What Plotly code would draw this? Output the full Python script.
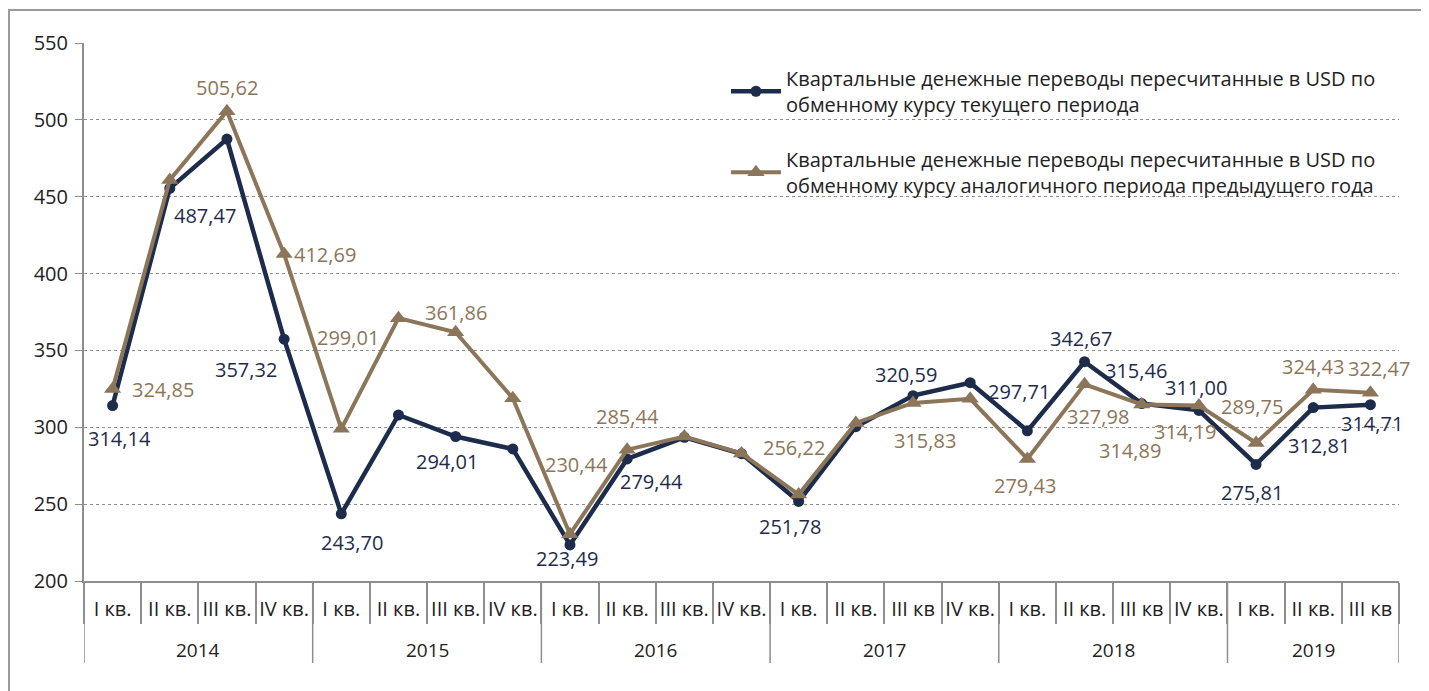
import plotly.graph_objects as go

# ---- data ----
years = ["2014"] * 4 + ["2015"] * 4 + ["2016"] * 4 + ["2017"] * 4 + ["2018"] * 4 + ["2019"] * 3
quarters = ["I кв.", "II кв.", "III кв.", "IV кв.",
            "I кв.", "II кв.", "III кв.", "IV кв.",
            "I кв.", "II кв.", "III кв.", "IV кв.",
            "I кв.", "II кв.", "III кв", "IV кв.",
            "I кв.", "II кв.", "III кв", "IV кв.",
            "I кв.", "II кв.", "III кв"]

current_rate = [314.14, 455.4, 487.47, 357.32,
                243.70, 308.0, 294.01, 285.9,
                223.49, 279.44, 293.5, 282.8,
                251.78, 300.4, 320.59, 329.0,
                297.71, 342.67, 315.46, 311.00,
                275.81, 312.81, 314.71]

prev_year_rate = [324.85, 460.9, 505.62, 412.69,
                  299.01, 371.0, 361.86, 318.9,
                  230.44, 285.44, 294.0, 283.0,
                  256.22, 302.8, 315.83, 318.5,
                  279.43, 327.98, 314.89, 314.19,
                  289.75, 324.43, 322.47]

name_current = "Квартальные денежные переводы пересчитанные в USD по<br>обменному курсу текущего периода"
name_prev = "Квартальные денежные переводы пересчитанные в USD по<br>обменному курсу аналогичного периода предыдущего года"

# labelled points: (index, dx, dy) pixel offsets of the label from its point
labels_current = [(0, 7, 33), (2, -22, 76), (3, -38, 30), (4, 11, 29), (6, -9, 25),
                  (8, -3, 14), (9, 24, 23), (12, -9, 25), (14, -7, -21), (16, -8, -39),
                  (17, -4, -23), (18, -6, -33), (19, -3, -23), (20, -4, 28),
                  (21, 6, 38), (22, 2, 19)]
labels_prev = [(0, 50, 0), (2, 0, -24), (3, 41, 0), (4, 7, -91), (6, 0, -20),
               (8, 7, -70), (9, 0, -33), (12, -5, -47), (14, 12, 38), (16, -2, 27),
               (17, 13, 32), (18, -12, 46), (19, -14, 26), (20, -4, -37),
               (21, 0, -23), (22, 9, -24)]

NAVY = "#1d2c4b"
TAN = "#8c7659"
GRAY = "#8e8e8e"
TXT = "#222222"
FONT = "Open Sans"

n = len(quarters)
xi = list(range(n))

# year groups derived from the years list
groups = []
for i, yv in enumerate(years):
    if not groups or groups[-1][0] != yv:
        groups.append([yv, i, i])
    else:
        groups[-1][2] = i

fig = go.Figure()
fig.add_trace(go.Scatter(
    x=xi, y=current_rate, name=name_current, legendgroup="a",
    mode="lines+markers",
    line=dict(color=NAVY, width=4.5),
    marker=dict(symbol="circle", size=11, color=NAVY),
))
fig.add_trace(go.Scatter(
    x=xi, y=prev_year_rate, name=name_prev, legendgroup="b",
    mode="lines+markers",
    line=dict(color=TAN, width=4),
    marker=dict(symbol="triangle-up", size=15, color=TAN),
))

def fmt(v):
    return f"{v:.2f}".replace(".", ",")

annotations = []
for i, dx, dy in labels_current:
    annotations.append(dict(x=xi[i], y=current_rate[i], xref="x", yref="y",
                            text=fmt(current_rate[i]), showarrow=False,
                            xshift=dx, yshift=-dy,
                            font=dict(family=FONT, size=20, color=NAVY)))
for i, dx, dy in labels_prev:
    annotations.append(dict(x=xi[i], y=prev_year_rate[i], xref="x", yref="y",
                            text=fmt(prev_year_rate[i]), showarrow=False,
                            xshift=dx, yshift=-dy,
                            font=dict(family=FONT, size=20, color=TAN)))

# figure is placed 8px from the page edge by the default body margin
W, H = 1421, 683
ML, MR, MT, MB = 76, 30, 35, 110
PLOT_W = W - ML - MR
PLOT_H = H - MT - MB

shapes = []
for yv, a, b in groups:
    annotations.append(dict(x=(a + b) / 2, y=-69 / PLOT_H, xref="x", yref="paper",
                            text=yv, showarrow=False, yanchor="middle",
                            font=dict(family=FONT, size=19, color=TXT)))
bounds = [g[1] - 0.5 for g in groups] + [groups[-1][2] + 0.5]
for bx in bounds:
    shapes.append(dict(type="line", xref="x", yref="paper", x0=bx, x1=bx,
                       y0=0, y1=-82 / PLOT_H, line=dict(color=GRAY, width=1.5)))
shapes.append(dict(type="rect", xref="paper", yref="paper",
                   x0=-(ML - 1) / PLOT_W, x1=(PLOT_W + MR - 2) / PLOT_W,
                   y0=-(MB + 20) / PLOT_H, y1=(PLOT_H + MT - 2) / PLOT_H,
                   line=dict(color="#9a9a9a", width=2), layer="below"))

fig.update_layout(
    width=W, height=H,
    margin=dict(l=ML, r=MR, t=MT, b=MB),
    paper_bgcolor="white", plot_bgcolor="white",
    font=dict(family=FONT, size=19, color=TXT),
    showlegend=True,
    legend=dict(x=0.4882, y=0.9707, xanchor="left", yanchor="top",
                bgcolor="rgba(0,0,0,0)", traceorder="grouped", tracegroupgap=26,
                itemwidth=50,
                font=dict(family=FONT, size=20, color=TXT)),
    xaxis=dict(range=[-0.5, n - 0.5], showline=True, linecolor=GRAY, linewidth=2,
               tickmode="array", tickvals=xi, ticktext=quarters, tickangle=0,
               ticks="outside", ticklen=9, tickcolor="rgba(0,0,0,0)",
               minor=dict(tickmode="array", tickvals=[v - 0.5 for v in xi] + [n - 0.5],
                          ticks="outside", ticklen=41, tickcolor=GRAY, tickwidth=1.5,
                          showgrid=False),
               showgrid=False, zeroline=False, automargin=False,
               tickfont=dict(family=FONT, size=20, color=TXT)),
    yaxis=dict(range=[200, 550], dtick=50, showline=True, linecolor=GRAY, linewidth=2,
               ticks="outside", ticklen=7, tickcolor=GRAY,
               showgrid=True, gridcolor=GRAY, gridwidth=1, griddash="dot",
               zeroline=False, ticklabelstandoff=3, automargin=False,
               tickfont=dict(family=FONT, size=20, color=TXT)),
    annotations=annotations,
    shapes=shapes,
)

fig.write_html("out.html")
